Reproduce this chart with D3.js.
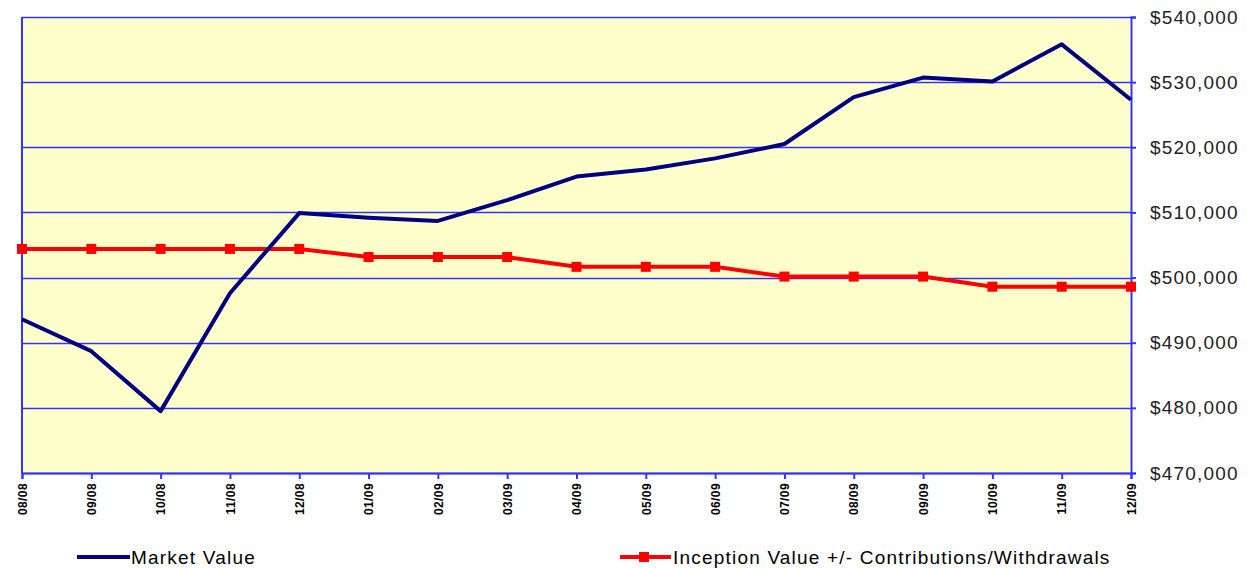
<!DOCTYPE html>
<html>
<head>
<meta charset="utf-8">
<script src="https://cdn.jsdelivr.net/npm/d3@7/dist/d3.min.js"></script>
<style>
  body { margin: 0; background: #fff; }
  svg { display: block; font-family: "Liberation Sans", Arial, sans-serif; }
</style>
</head>
<body>
<svg id="chart" width="1252" height="568"></svg>
<script>
// months on the x axis
const months = ['08/08', '09/08', '10/08', '11/08', '12/08', '01/09', '02/09', '03/09', '04/09',
                '05/09', '06/09', '07/09', '08/09', '09/09', '10/09', '11/09', '12/09'];
const marketValue = [493600, 488700, 479500, 497600, 509900, 509200, 508700, 511900, 515500,
                     516600, 518300, 520500, 527700, 530700, 530100, 535800, 527300];
const inceptionValue = [504400, 504400, 504400, 504400, 504400, 503150, 503150, 503150, 501650,
                        501650, 501650, 500150, 500150, 500150, 498600, 498600, 498600];
const yTicks = [470000, 480000, 490000, 500000, 510000, 520000, 530000, 540000];

const margin = {top: 17, right: 121, bottom: 95, left: 22};
const width = 1252 - margin.left - margin.right;
const height = 568 - margin.top - margin.bottom;

const svg = d3.select('#chart');
const g = svg.append('g')
    .attr('transform', `translate(${margin.left},${margin.top})`);

const x = d3.scalePoint()
    .domain(months)
    .range([0, width]);
const y = d3.scaleLinear()
    .domain([470000, 540000])
    .range([height, 0]);

const gridBlue = '#3333ff';

g.append('rect')
  .attr('width', width)
  .attr('height', height)
  .attr('fill', '#ffffcc');

// horizontal grid
g.append('g')
  .selectAll('line')
  .data(yTicks)
  .enter().append('line')
  .attr('x1', 0)
  .attr('x2', width)
  .attr('y1', d => Math.round(y(d)) + 0.5)
  .attr('y2', d => Math.round(y(d)) + 0.5)
  .attr('stroke', gridBlue)
  .attr('stroke-width', 1.5);

// x axis
const xAxis = g.append('g')
  .attr('transform', `translate(0,${height})`)
  .call(d3.axisBottom(x).tickSize(6).tickPadding(6));
xAxis.select('.domain').attr('stroke', gridBlue).attr('stroke-width', 2);
xAxis.selectAll('.tick line').attr('stroke', gridBlue).attr('stroke-width', 2);
xAxis.selectAll('.tick text')
  .attr('transform', 'rotate(-90)')
  .attr('text-anchor', 'end')
  .attr('x', -10)
  .attr('y', 0)
  .attr('dy', '0.35em')
  .style('font-size', '12px')
  .style('font-weight', 'bold')
  .style('letter-spacing', '0.4px')
  .attr('fill', '#000');

// y axis on the right
const yAxis = g.append('g')
  .attr('transform', `translate(${width},0)`)
  .call(d3.axisRight(y).tickValues(yTicks).tickSize(5).tickPadding(14)
        .tickFormat(d => '$' + d3.format(',')(d)));
yAxis.select('.domain').attr('stroke', gridBlue).attr('stroke-width', 2);
yAxis.selectAll('.tick line').attr('stroke', gridBlue).attr('stroke-width', 2);
yAxis.selectAll('.tick text')
  .style('font-size', '19px')
  .style('letter-spacing', '1.2px')
  .attr('fill', '#222');

// left border
g.append('line')
  .attr('x1', 0).attr('x2', 0)
  .attr('y1', 0).attr('y2', height)
  .attr('stroke', gridBlue)
  .attr('stroke-width', 2);

const line = d3.line()
  .x((d, i) => x(months[i]))
  .y(d => y(d));

g.append('path')
  .datum(inceptionValue)
  .attr('fill', 'none')
  .attr('stroke', '#ff0000')
  .attr('stroke-width', 4)
  .attr('d', line);

g.append('g')
  .selectAll('rect')
  .data(inceptionValue)
  .enter().append('rect')
  .attr('x', (d, i) => x(months[i]) - 5)
  .attr('y', d => y(d) - 5)
  .attr('width', 10)
  .attr('height', 10)
  .attr('fill', '#ff0000');

g.append('path')
  .datum(marketValue)
  .attr('fill', 'none')
  .attr('stroke', '#000080')
  .attr('stroke-width', 4)
  .attr('stroke-linejoin', 'round')
  .attr('d', line);

// legend
const legend = svg.append('g')
  .style('font-size', '19px')
  .style('letter-spacing', '1.2px');
legend.append('line')
  .attr('x1', 77).attr('x2', 130)
  .attr('y1', 557).attr('y2', 557)
  .attr('stroke', '#000080')
  .attr('stroke-width', 4);
legend.append('text')
  .attr('x', 131)
  .attr('y', 564)
  .text('Market Value');

legend.append('line')
  .attr('x1', 620).attr('x2', 671)
  .attr('y1', 557).attr('y2', 557)
  .attr('stroke', '#ff0000')
  .attr('stroke-width', 4);
legend.append('rect')
  .attr('x', 639).attr('y', 552)
  .attr('width', 10).attr('height', 10)
  .attr('fill', '#ff0000');
legend.append('text')
  .attr('x', 673)
  .attr('y', 564)
  .text('Inception Value +/- Contributions/Withdrawals');
</script>
</body>
</html>
